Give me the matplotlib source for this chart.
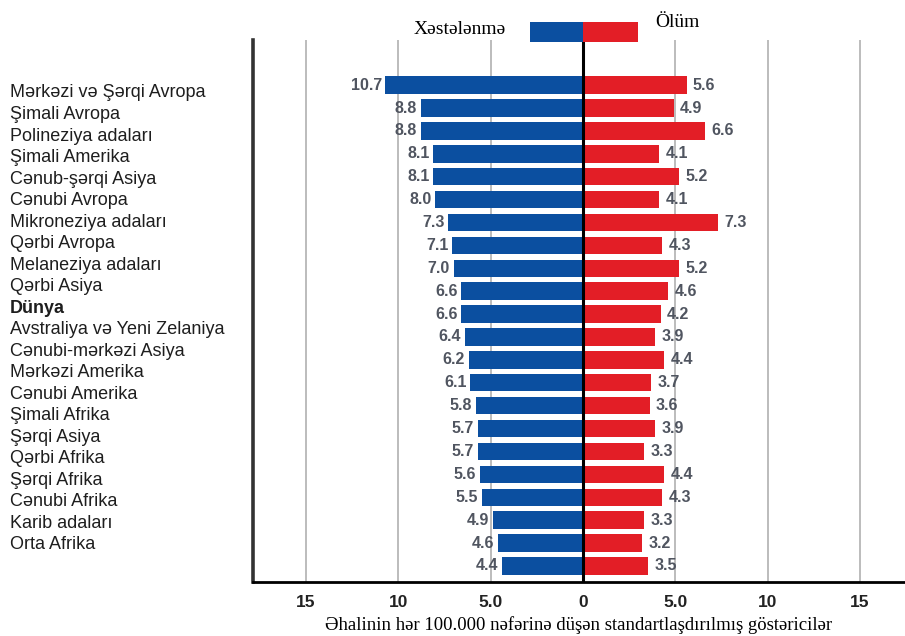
import matplotlib.pyplot as plt

regions = [
    "Mərkəzi və Şərqi Avropa", "Şimali Avropa", "Polineziya adaları",
    "Şimali Amerika", "Cənub-şərqi Asiya", "Cənubi Avropa",
    "Mikroneziya adaları", "Qərbi Avropa", "Melaneziya adaları",
    "Qərbi Asiya", "Dünya", "Avstraliya və Yeni Zelaniya",
    "Cənubi-mərkəzi Asiya", "Mərkəzi Amerika", "Cənubi Amerika",
    "Şimali Afrika", "Şərqi Asiya", "Qərbi Afrika", "Şərqi Afrika",
    "Cənubi Afrika", "Karib adaları", "Orta Afrika",
]
incidence = [10.7, 8.8, 8.8, 8.1, 8.1, 8.0, 7.3, 7.1, 7.0, 6.6, 6.6,
             6.4, 6.2, 6.1, 5.8, 5.7, 5.7, 5.6, 5.5, 4.9, 4.6, 4.4]
mortality = [5.6, 4.9, 6.6, 4.1, 5.2, 4.1, 7.3, 4.3, 5.2, 4.6, 4.2,
             3.9, 4.4, 3.7, 3.6, 3.9, 3.3, 4.4, 4.3, 3.3, 3.2, 3.5]
xticks = [-15, -10, -5, 0, 5, 10, 15]
xtick_labels = ["15", "10", "5.0", "0", "5.0", "10", "15"]

BLUE = "#0b4fa0"
RED = "#e31e26"
VAL = "#505560"
sans = ["Liberation Sans", "DejaVu Sans"]
serif = ["Liberation Serif", "DejaVu Serif"]

fig = plt.figure(figsize=(9.05, 6.36), dpi=100)
ax = fig.add_axes([0.2796, 0.0849, 0.7204, 0.8522])

y = list(range(len(incidence)))
ax.barh(y, [-v for v in incidence], height=0.76, color=BLUE, zorder=2)
ax.barh(y, mortality, height=0.76, color=RED, zorder=2)

for i, (a, b) in enumerate(zip(incidence, mortality)):
    ax.text(-a - 0.2, i, f"{a:.1f}", ha="right", va="center",
            fontsize=11.5, fontweight="bold", color=VAL, family=sans)
    ax.text(b + 0.35, i, f"{b:.1f}", ha="left", va="center",
            fontsize=11.5, fontweight="bold", color=VAL, family=sans)

ax.set_xlim(-17.87, 17.43)
ax.set_ylim(21.7, -1.97)

for t in xticks:
    if t == 0:
        ax.axvline(0, color="black", lw=2.2, zorder=3)
    else:
        ax.axvline(t, color="#b0b0b0", lw=1.2, zorder=1)

ax.set_xticks(xticks)
ax.set_xticklabels(xtick_labels, fontsize=12.5, fontweight="bold",
                   color="#222222", family=sans)
ax.tick_params(axis="x", length=0, pad=9)
ax.set_yticks([])
ax.set_xlabel("Əhalinin hər 100.000 nəfərinə düşən standartlaşdırılmış göstəricilər",
              fontsize=13.5, family=serif, labelpad=5)

for s in ["top", "right"]:
    ax.spines[s].set_visible(False)
ax.spines["left"].set_color("#333333")
ax.spines["left"].set_linewidth(2.6)
ax.spines["bottom"].set_color("black")
ax.spines["bottom"].set_linewidth(2.0)

# legend keys above the plot
ax.barh(-2.31, -2.9, height=0.87, color=BLUE, clip_on=False, zorder=4)
ax.barh(-2.31, 2.98, height=0.87, color=RED, clip_on=False, zorder=4)
ax.text(-4.2, -2.45, "Xəstələnmə", ha="right", va="center",
        fontsize=14, family=serif, clip_on=False)
ax.text(3.9, -2.72, "Ölüm", ha="left", va="center",
        fontsize=14, family=serif, clip_on=False)

# region names sit in their own column on the left
lab = fig.add_axes([0.0, 0.1262, 0.27, 0.7445])
lab.set_axis_off()
lab.set_xlim(0, 1)
lab.set_ylim(len(regions) - 0.5, -0.5)
for i, name in enumerate(regions):
    lab.text(0.04, i, name, ha="left", va="center", fontsize=13,
             color="#1e1e1e", family=sans,
             fontweight="bold" if name == "Dünya" else "normal")

fig.savefig("out.png", dpi=100)
